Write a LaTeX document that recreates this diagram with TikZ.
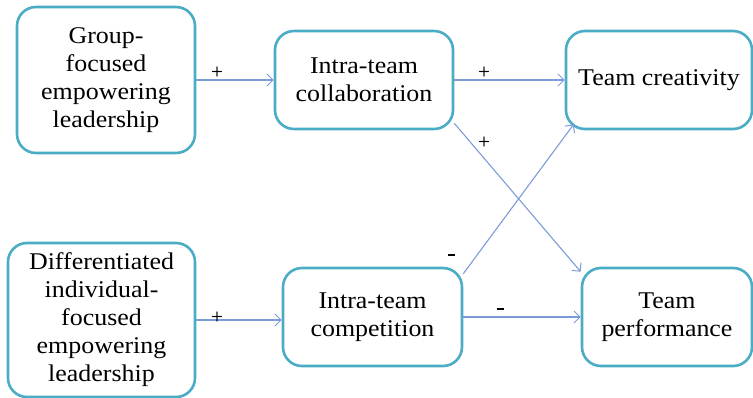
\documentclass[tikz,border=0pt]{standalone}
\usepackage{fontspec}
\setmainfont[FakeStretch=1.08]{Liberation Serif}
\usetikzlibrary{arrows.meta,calc}
\definecolor{boxcol}{RGB}{75,172,198}
\definecolor{arrcol}{RGB}{125,155,215}
\tikzset{
  box/.style={draw=boxcol, line width=2.6pt, rounded corners=19pt, fill=white,
    inner sep=0pt, align=center, font=\fontsize{24}{28}\selectfont},
  conn/.style={draw=arrcol, line width=1.1pt,
    -{Straight Barb[length=6pt,width=12pt,line width=1pt]}},
  sign/.style={font=\sffamily\bfseries\fontsize{14}{14}\selectfont, inner sep=0pt}
}
\begin{document}
\begin{tikzpicture}[x=1pt,y=-1pt]
\useasboundingbox (0,0) rectangle (753,397);
\node[box, minimum width=178pt, minimum height=146pt] (A) at (106,80) {Group-\\focused\\empowering\\leadership};
\node[box, minimum width=178pt, minimum height=98pt] (B) at (364,80) {Intra-team\\collaboration};
\node[box, minimum width=186pt, minimum height=98pt] (C) at (659,80) {Team creativity};
\node[box, minimum width=187pt, minimum height=154pt] (D) at (101.5,320) {Differentiated\\individual-\\focused\\empowering\\leadership};
\node[box, minimum width=179pt, minimum height=98pt] (E) at (372.5,317) {Intra-team\\competition};
\node[box, minimum width=170pt, minimum height=98pt] (F) at (667,317) {Team\\performance};

\coordinate (Bo) at ($(B.south east)+(0,-7)$);
\coordinate (Fi) at ($(F.north west)+(0,5)$);
\coordinate (Eo) at ($(E.north east)+(0,7)$);
\coordinate (Ci) at ($(C.south west)+(9,-6)$);

\draw[conn] (A.east) -- (B.west);
\draw[conn] (B.east) -- (C.west);
\draw[conn] (Bo) -- (Fi);
\draw[conn] (Eo) -- (Ci);
\draw[conn] (D.east) -- (D.east -| E.west);
\draw[conn] (E.east) -- (F.west);

\node[sign] (s1) at (217,72) {+};
\node[sign] (s2) at (484,72) {+};
\node[sign] (s3) at (484,142) {+};
\node[sign] (s4) at (451,255) {\rule{7pt}{1.6pt}};
\node[sign] (s5) at (217,317) {+};
\node[sign] (s6) at (500,309) {\rule{7pt}{1.6pt}};
\end{tikzpicture}
\end{document}
